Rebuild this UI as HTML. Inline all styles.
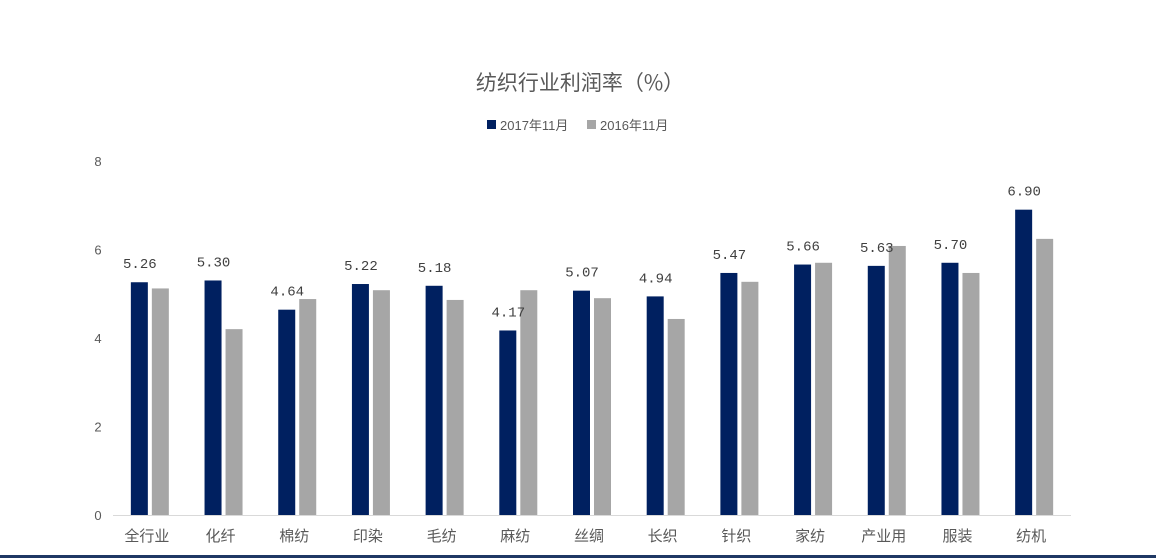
<!DOCTYPE html>
<html><head><meta charset="utf-8"><style>
html,body{margin:0;padding:0;background:#fff;}
svg{display:block;font-family:"Liberation Sans","Noto Sans CJK SC",sans-serif;}
</style></head><body>
<svg id="chart" width="1156" height="558" viewBox="0 0 1156 558">
<rect x="0" y="0" width="1156" height="558" fill="#fff"/>
<text x="580" y="90" text-anchor="middle" font-size="21" fill="#595959" font-family="'Noto Sans CJK SC',sans-serif">纺织行业利润率（%）</text>
<g>
<rect x="487" y="120" width="9" height="9" fill="#002060"/>
<text x="500" y="130" font-size="13" fill="#595959">2017年11月</text>
<rect x="587" y="120" width="9" height="9" fill="#a6a6a6"/>
<text x="600" y="130" font-size="13" fill="#595959">2016年11月</text>
</g>
<g id="yaxis"></g><g id="bars"></g><g id="xaxis"></g>
<rect x="0" y="555" width="1156" height="3" fill="#1f3864"/>
</svg>
<script>
const categories=["全行业","化纤","棉纺","印染","毛纺","麻纺","丝绸","长织","针织","家纺","产业用","服装","纺机"];
const series2017=[5.26,5.30,4.64,5.22,5.18,4.17,5.07,4.94,5.47,5.66,5.63,5.70,6.90];
const series2016=[5.12,4.20,4.88,5.08,4.86,5.08,4.90,4.43,5.27,5.70,6.08,5.47,6.24];
const labels2017=["5.26","5.30","4.64","5.22","5.18","4.17","5.07","4.94","5.47","5.66","5.63","5.70","6.90"];
const yTicks=[0,2,4,6,8];
const NS="http://www.w3.org/2000/svg";
const x0=113,x1=1071,y0=515,yTop=161,yMax=8;
const step=(x1-x0)/categories.length;
function yS(v){return y0-(v/yMax)*(y0-yTop);}
function xC(i){return x0+step*(i+0.5);}
function mk(tag,attrs,parent,text){const e=document.createElementNS(NS,tag);for(const k in attrs)e.setAttribute(k,attrs[k]);if(text!=null)e.textContent=text;parent.appendChild(e);return e;}
const ya=document.getElementById('yaxis'),bars=document.getElementById('bars'),xa=document.getElementById('xaxis');
yTicks.forEach(t=>{
 const e=mk('text',{x:98,y:yS(t)+5,'text-anchor':'middle','font-size':13,fill:'#595959'},ya,String(t));
 
 
});
const ax=mk('line',{x1:x0,x2:x1,y1:y0+0.5,y2:y0+0.5,stroke:'#d9d9d9','stroke-width':1},xa);


categories.forEach((c,i)=>{
 const cx=xC(i);
 const b1=mk('rect',{x:cx-19,y:yS(series2017[i]),width:17,height:y0-yS(series2017[i]),fill:'#002060'},bars);
 
 
 const b2=mk('rect',{x:cx+2,y:yS(series2016[i]),width:17,height:y0-yS(series2016[i]),fill:'#a6a6a6'},bars);
 
 
 const lb=mk('text',{x:cx-10,y:yS(series2017[i])-14,'text-anchor':'middle','font-size':14,fill:'#404040','font-family':"'Liberation Mono',monospace"},bars,labels2017[i]);
 
 
 const cl=mk('text',{x:cx-3,y:541,'text-anchor':'middle','font-size':15,fill:'#595959','font-family':"'Noto Sans CJK SC',sans-serif"},xa,c);
 
 
});
</script>
</body></html>
